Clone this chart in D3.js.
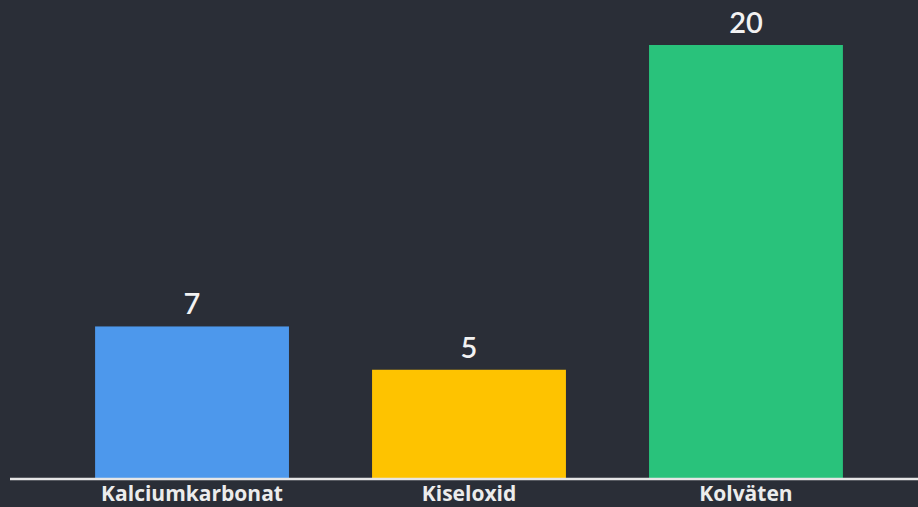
<!DOCTYPE html>
<html>
<head>
<meta charset="utf-8">
<script src="https://cdn.jsdelivr.net/npm/d3@7"></script>
<style>
  html, body { margin: 0; padding: 0; background: #2a2e37; overflow: hidden; }
  svg { display: block; }
</style>
</head>
<body>
<div id="chart"></div>
<script>
const categories = ['Kalciumkarbonat', 'Kiseloxid', 'Kolväten'];
const values     = [7, 5, 20];
const colors     = ['#4d98ec', '#fec300', '#29c27b'];

const width  = 918;
const height = 507;

const svg = d3.select( '#chart' )
              .append( 'svg' )
              .attr( 'width', width )
              .attr( 'height', height );

svg.append( 'rect' )
   .attr( 'width', width )
   .attr( 'height', height )
   .attr( 'fill', '#2a2e37' );

const x = d3.scaleBand()
            .domain( categories )
            .range( [12, 926] )
            .paddingInner( 0.3 )
            .paddingOuter( 0.3 );

const y = d3.scaleLinear()
            .domain( [0, 20] )
            .range( [478, 45] );

const data = categories.map( ( c, i ) => ( { name : c, value : values[i], color : colors[i] } ) );

svg.selectAll( 'rect.bar' )
   .data( data )
   .enter()
   .append( 'rect' )
   .attr( 'class', 'bar' )
   .attr( 'x', d => x( d.name ) )
   .attr( 'y', d => y( d.value ) )
   .attr( 'width', x.bandwidth() )
   .attr( 'height', d => y( 0 ) - y( d.value ) )
   .attr( 'fill', d => d.color );

svg.selectAll( 'text.value' )
   .data( data )
   .enter()
   .append( 'text' )
   .attr( 'class', 'value' )
   .attr( 'x', d => x( d.name ) + x.bandwidth() / 2 )
   .attr( 'y', d => y( d.value ) - 12 )
   .attr( 'text-anchor', 'middle' )
   .attr( 'font-family', 'Lato, sans-serif' )
   .attr( 'font-weight', 600 )
   .attr( 'font-size', '29px' )
   .attr( 'fill', '#f2f2f2' )
   .text( d => d.value );

// x axis
const xAxis = svg.append( 'g' )
                 .attr( 'transform', `translate(0,${y( 0 ) + 1})` )
                 .call( d3.axisBottom( x ).tickSize( 0 ) );

xAxis.select( '.domain' )
     .attr( 'd', `M10,0H${width}` )
     .attr( 'stroke', '#e6e6e6' )
     .attr( 'stroke-width', 2.5 );

xAxis.selectAll( '.tick text' )
     .attr( 'y', 22 )
     .attr( 'dy', 0 )
     .attr( 'font-family', '"Open Sans", sans-serif' )
     .attr( 'font-weight', 700 )
     .attr( 'font-size', '21px' )
     .attr( 'fill', '#ececec' );
</script>
</body>
</html>
